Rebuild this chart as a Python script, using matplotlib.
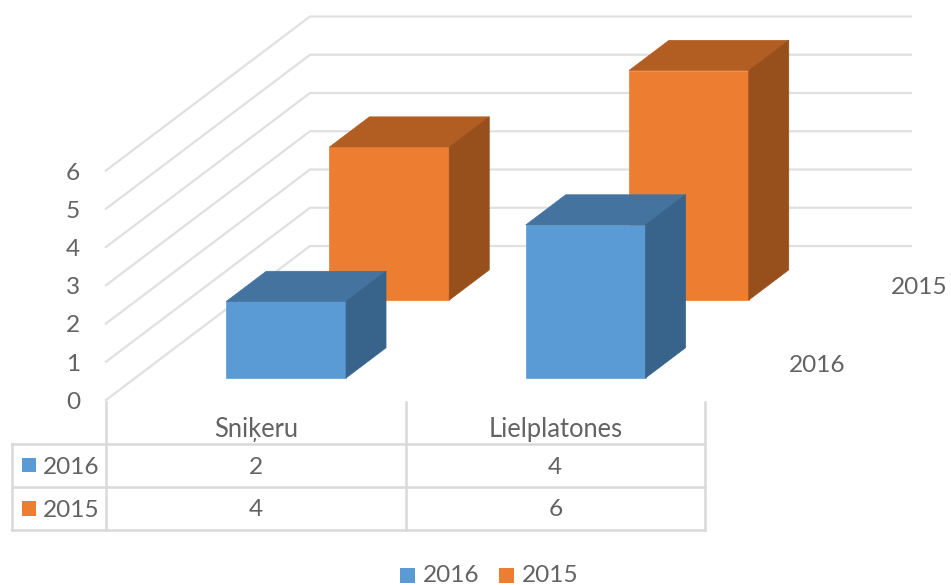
import matplotlib
matplotlib.use("Agg")
import matplotlib.pyplot as plt
from matplotlib.patches import Polygon, Rectangle

plt.rcParams['font.family'] = ['Lato', 'DejaVu Sans']

categories = ["Sniķeru", "Lielplatones"]
series_names = ["2016", "2015"]
values_2016 = [2, 4]
values_2015 = [4, 6]
value_ticks = [0, 1, 2, 3, 4, 5, 6]

colors = {"2016": ("#5B9BD5", "#44739F", "#38638A"),
          "2015": ("#ED7D31", "#B25D22", "#974F1C")}
TEXT = "#636363"
GRID = "#E0E0E0"
TBL = "#D9D9D9"
FS = 17.6
FS_CAT = 18.4

# Oblique projection: (category, series depth, value) -> pixel position
X0, Y0 = 106.0, 400.0          # front-left corner of the floor
CAT_W = 299.5                  # pixels per category
UNIT = 38.25                   # pixels per value unit
FLOOR_DX, FLOOR_DY = 204.0, 154.0   # full floor depth vector
BAR_W = 0.4                    # bar width, in category units
BAR_D = 40.0 / 204.0           # bar depth, as fraction of floor depth
WALL_W = 601.0 / CAT_W         # back wall width, in category units


def proj(c, d, v):
    return (X0 + c * CAT_W + d * FLOOR_DX,
            Y0 - v * UNIT - d * FLOOR_DY)


fig = plt.figure(figsize=(9.51, 5.85), dpi=100)
ax = fig.add_axes([0, 0, 1, 1])
ax.set_xlim(0, 951)
ax.set_ylim(585, 0)
ax.axis("off")

# gridlines on the side and back walls
for v in value_ticks:
    pts = [proj(0, 0, v), proj(0, 1, v), proj(WALL_W, 1, v)]
    ax.plot(*zip(*pts), color=GRID, lw=1.6, solid_joinstyle="miter", zorder=1)
    ax.text(80, proj(0, 0, v)[1] + 2.5, str(v), ha="right", va="center",
            color=TEXT, fontsize=FS, zorder=5)


def bar(c_center, d_front, v, name, z):
    front, top, side = colors[name]
    l = c_center - BAR_W / 2
    r = c_center + BAR_W / 2
    d2 = d_front + BAR_D
    ax.add_patch(Polygon([proj(l, d_front, 0), proj(r, d_front, 0),
                          proj(r, d_front, v), proj(l, d_front, v)],
                         fc=front, ec=front, lw=0.5, zorder=z))
    ax.add_patch(Polygon([proj(l, d_front, v), proj(r, d_front, v),
                          proj(r, d2, v), proj(l, d2, v)],
                         fc=top, ec=top, lw=0.5, zorder=z))
    ax.add_patch(Polygon([proj(r, d_front, 0), proj(r, d2, 0),
                          proj(r, d2, v), proj(r, d_front, v)],
                         fc=side, ec=side, lw=0.5, zorder=z))


DEPTH = {"2016": 0.143, "2015": 0.649}
CENTER = 0.504
for i, b in enumerate(values_2015):
    bar(i + CENTER, DEPTH["2015"], b, "2015", 2 + i * 0.1)
for i, a in enumerate(values_2016):
    bar(i + CENTER, DEPTH["2016"], a, "2016", 3 + i * 0.1)

# series (depth) axis labels
ax.text(817, 365, series_names[0], ha="center", va="center", color=TEXT, fontsize=FS)
ax.text(919, 287, series_names[1], ha="center", va="center", color=TEXT, fontsize=FS)

# data table
xs = [11.5, X0, X0 + CAT_W, X0 + 2 * CAT_W]
ys = [444, 487, 530]
top_y = 402
for x in xs[1:]:
    ax.plot([x, x], [top_y, ys[-1]], color=TBL, lw=1.8, zorder=1)
ax.plot([xs[0], xs[0]], [ys[0], ys[-1]], color=TBL, lw=1.8, zorder=1)
for y in ys:
    ax.plot([xs[0], xs[-1]], [y, y], color=TBL, lw=1.8, zorder=1)

for i, cat in enumerate(categories):
    cx = X0 + (i + 0.5) * CAT_W
    ax.text(cx, 429, cat, ha="center", va="center", color=TEXT, fontsize=FS_CAT)
    ax.text(cx, 467, str(values_2016[i]), ha="center", va="center", color=TEXT, fontsize=FS)
    ax.text(cx, 510, str(values_2015[i]), ha="center", va="center", color=TEXT, fontsize=FS)

for name, y in zip(series_names, [464.5, 508]):
    ax.add_patch(Rectangle((21.5, y - 7), 14.5, 14.5, fc=colors[name][0], ec="none"))
    ax.text(43, y + 2.5, name, ha="left", va="center", color=TEXT, fontsize=FS)

# legend
for name, x in zip(series_names, [400, 499]):
    ax.add_patch(Rectangle((x, 568), 15, 14.5, fc=colors[name][0], ec="none"))
    ax.text(x + 23, 575.5, name, ha="left", va="center", color=TEXT, fontsize=FS)

fig.savefig("out.png", dpi=100)
